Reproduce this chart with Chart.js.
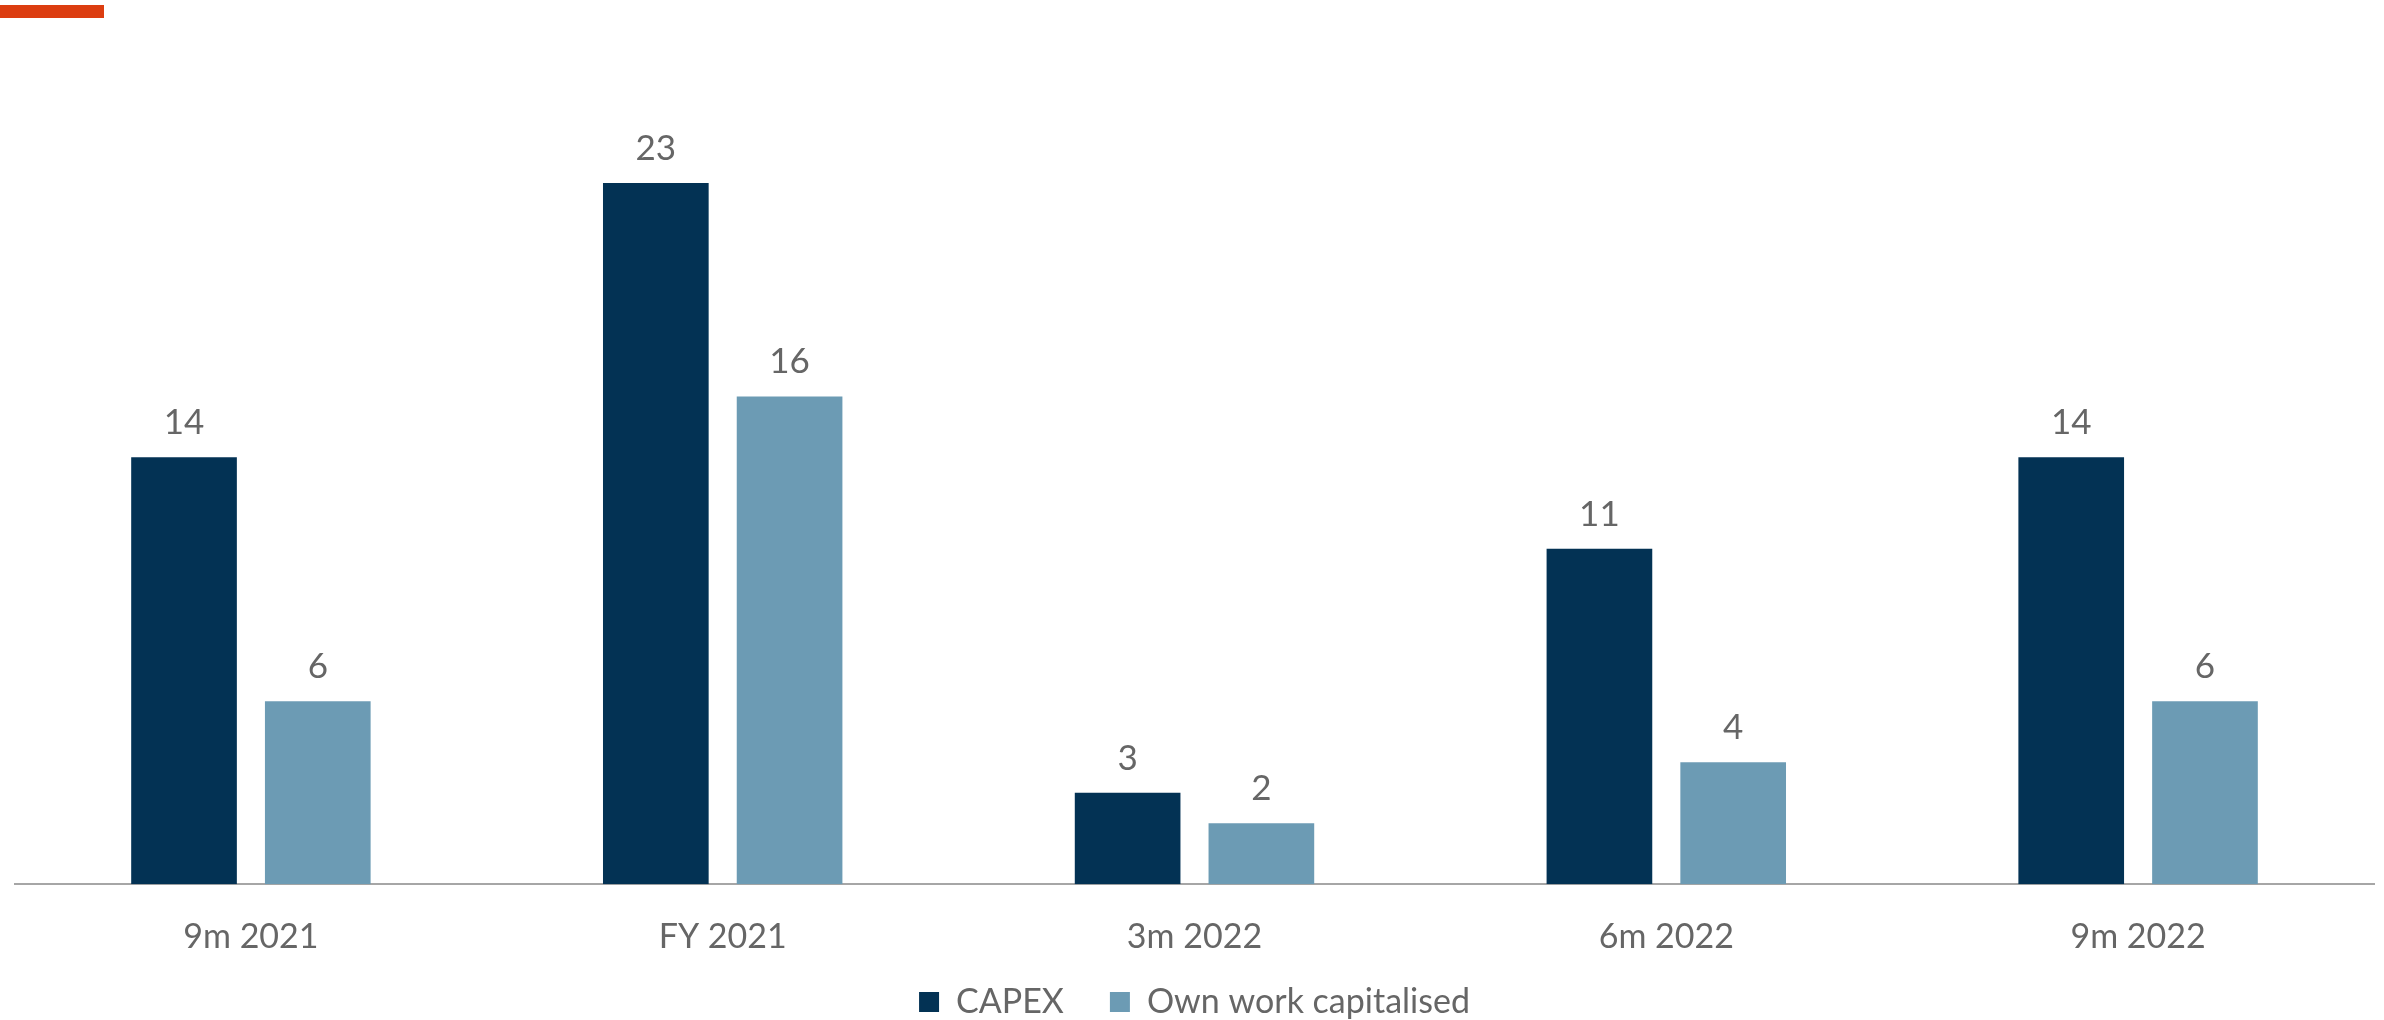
<!DOCTYPE html>
<html>
<head>
<meta charset="utf-8">
<script src="https://cdn.jsdelivr.net/npm/chart.js@4"></script>
<style>
  html, body { margin: 0; padding: 0; background: #fff; }
  #wrap { position: relative; width: 2384px; height: 1020px; }
  #accent { position: absolute; left: 0; top: 5px; width: 104px; height: 13px; background: #DC3D10; }
</style>
</head>
<body>
<div id="wrap">
  <div id="accent"></div>
  <canvas id="capexChart" width="2384" height="1020"></canvas>
</div>
<script>
// Chart data
const periods = ['9m 2021', 'FY 2021', '3m 2022', '6m 2022', '9m 2022'];
const capex = [14, 23, 3, 11, 14];
const ownWork = [6, 16, 2, 4, 6];

// Draws the value above each bar
const valueLabels = {
    id: 'valueLabels',
    afterDatasetsDraw(chart) {
        const ctx = chart.ctx;
        ctx.save();
        ctx.font = '35px Lato';
        ctx.fillStyle = '#666666';
        ctx.textAlign = 'center';
        ctx.textBaseline = 'bottom';
        chart.data.datasets.forEach((ds, i) => {
            chart.getDatasetMeta(i).data.forEach((bar, j) => {
                ctx.fillText(ds.data[j], bar.x, bar.y - 17);
            });
        });
        ctx.restore();
    }
};

// Legend padding is wide to space the items apart, so pull the legend back up
const legendShift = {
    id: 'legendShift',
    afterLayout(chart) {
        const lg = chart.legend;
        if (lg) {
            lg.top -= 42;
            lg.bottom -= 42;
        }
    }
};

var ctx = document.getElementById('capexChart').getContext('2d');
var capexChart = new Chart(ctx, {
    type: 'bar',
    data: {
        labels: periods,
        datasets: [{
            label: 'CAPEX',
            data: capex,
            backgroundColor: '#033254' // dark navy
        }, {
            label: 'Own work capitalised',
            data: ownWork,
            backgroundColor: '#6C9BB4' // light steel blue
        }]
    },
    options: {
        responsive: false,
        animation: false,
        layout: {
            padding: { left: 15, right: 10, top: 122, bottom: -51 }
        },
        datasets: {
            bar: {
                categoryPercentage: 0.567,
                barPercentage: 0.79
            }
        },
        scales: {
            x: {
                grid: { display: false },
                border: { display: true, color: '#A6A6A6', width: 2 },
                ticks: {
                    color: '#666666',
                    font: { family: 'Lato', size: 34 },
                    padding: 24
                }
            },
            y: {
                display: false,
                min: 0,
                max: 25
            }
        },
        plugins: {
            legend: {
                position: 'bottom',
                labels: {
                    color: '#666666',
                    font: { family: 'Lato', size: 34 },
                    boxWidth: 20,
                    boxHeight: 20,
                    padding: 46
                }
            },
            tooltip: { enabled: false }
        }
    },
    plugins: [valueLabels, legendShift]
});
</script>
</body>
</html>
